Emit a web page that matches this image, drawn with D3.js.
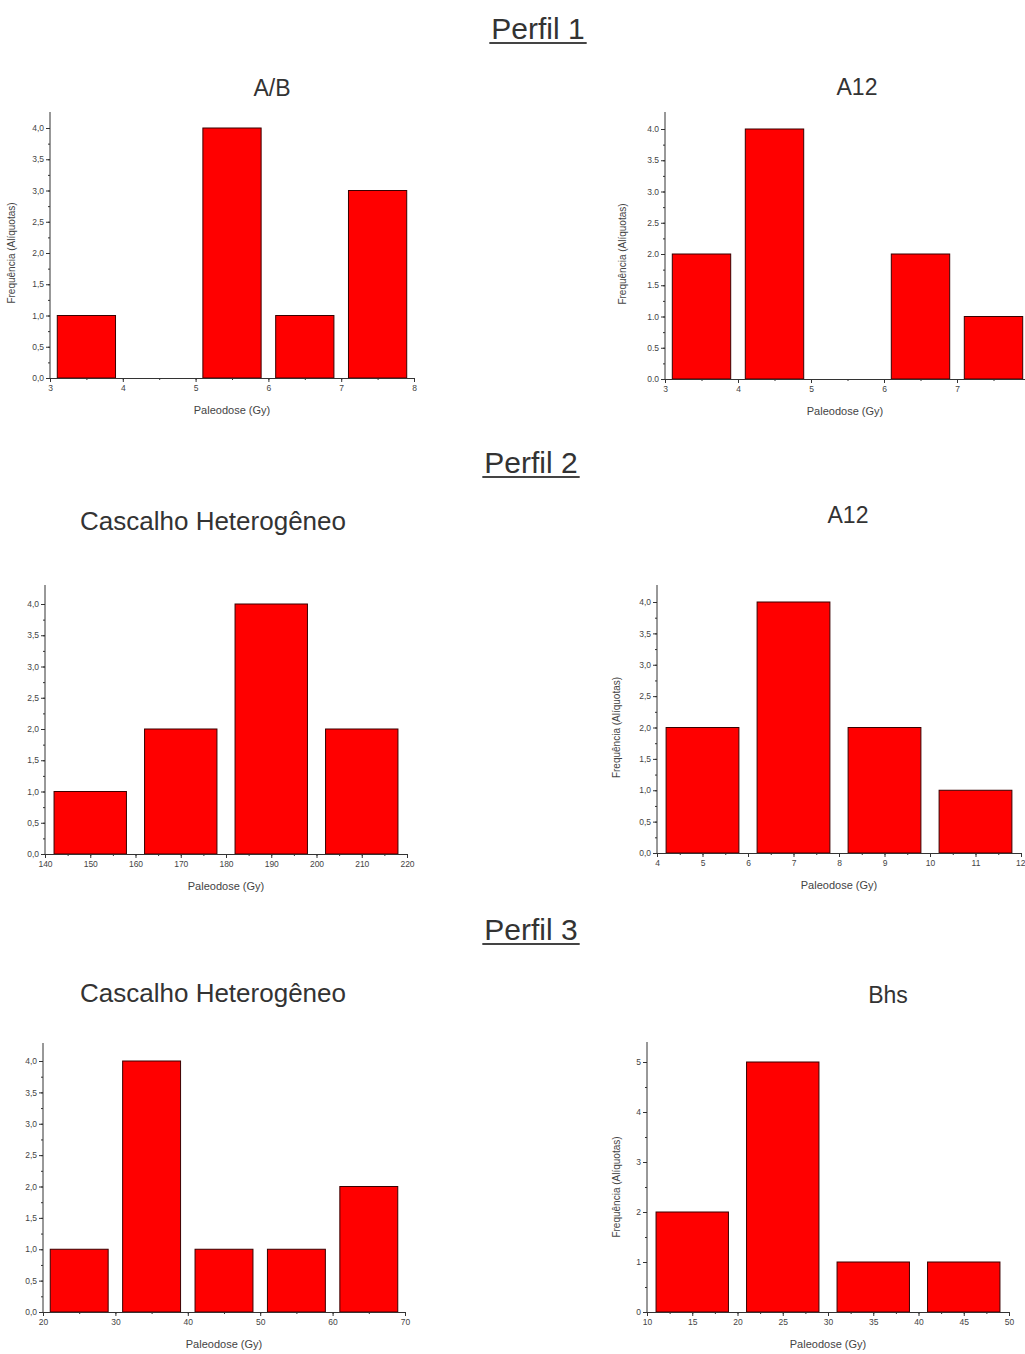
<!DOCTYPE html>
<html>
<head>
<meta charset="utf-8">
<script src="https://cdn.jsdelivr.net/npm/d3@7"></script>
<style>
  body{margin:0;background:#fff;}
  svg{display:block;font-family:"Liberation Sans",Arial,sans-serif;}
  .axis path,.axis line{stroke:#333;}
  .axis text{fill:#444;font-size:8.5px;}
</style>
</head>
<body>
<svg id="chart" width="1025" height="1354"></svg>
<script>
//------------DATA-----------
var sectionTitles=["Perfil 1","Perfil 2","Perfil 3"]
var panelTitles=["A/B","A12","Cascalho Heterogêneo","A12","Cascalho Heterogêneo","Bhs"]

// bin starts (Gy), bin width and counts per panel
var abBins=[3,4,5,6,7],          abCounts=[1,0,4,1,3]
var a12aBins=[3,4,5,6,7],        a12aCounts=[2,4,0,2,1]
var cascA_Bins=[140,160,180,200], cascA_Counts=[1,2,4,2]
var a12bBins=[4,6,8,10],         a12bCounts=[2,4,2,1]
var cascB_Bins=[20,30,40,50,60], cascB_Counts=[1,4,1,1,2]
var bhsBins=[10,20,30,40],       bhsCounts=[2,5,1,1]

var binWidths=[1,1,20,2,10,10]
var xTicks=[[3,4,5,6,7,8],[3,4,5,6,7,8],[140,150,160,170,180,190,200,210,220],
            [4,5,6,7,8,9,10,11,12],[20,30,40,50,60,70],[10,15,20,25,30,35,40,45,50]]
var yTicks=[[0,0.5,1,1.5,2,2.5,3,3.5,4],[0,0.5,1,1.5,2,2.5,3,3.5,4],[0,0.5,1,1.5,2,2.5,3,3.5,4],
            [0,0.5,1,1.5,2,2.5,3,3.5,4],[0,0.5,1,1.5,2,2.5,3,3.5,4],[0,1,2,3,4,5]]
var xLabel="Paleodose (Gy)"
var yLabel="Frequência (Alíquotas)"

//------------LAYOUT-----------
var panels=[
  {bins:abBins,   counts:abCounts,   xd:[3,8],    xr:[50,414],   y0:378, yt:128, top:112, comma:true,  yl:35, tx:272, ty:96},
  {bins:a12aBins, counts:a12aCounts, xd:[3,8],    xr:[665,1030], y0:379, yt:129, top:112, comma:false, yl:39, tx:857, ty:95},
  {bins:cascA_Bins,counts:cascA_Counts,xd:[140,220],xr:[45,407], y0:854, yt:604, top:585, comma:true,  yl:0,  tx:213, ty:530},
  {bins:a12bBins, counts:a12bCounts, xd:[4,12],   xr:[657,1021], y0:853, yt:602, top:585, comma:true,  yl:37, tx:848, ty:523},
  {bins:cascB_Bins,counts:cascB_Counts,xd:[20,70],xr:[43,405],   y0:1312,yt:1061,top:1043,comma:true,  yl:0,  tx:213, ty:1002},
  {bins:bhsBins,  counts:bhsCounts,  xd:[10,50],  xr:[647,1009], y0:1312,yt:1062,top:1042,comma:true,  yl:27, tx:888, ty:1003}
]
var sectionPos=[{x:538,y:39},{x:531,y:473},{x:531,y:940}]

var svg=d3.select("#chart")

//------------SECTION TITLES-----------
sectionTitles.forEach(function(t,i){
  var txt=svg.append("text")
    .attr("x",sectionPos[i].x).attr("y",sectionPos[i].y)
    .attr("text-anchor","middle")
    .style("font-size","30px").style("fill","#333")
    .text(t)
  var w=txt.node().getComputedTextLength()
  svg.append("line")
    .attr("x1",sectionPos[i].x-w/2-2).attr("x2",sectionPos[i].x+w/2+2)
    .attr("y1",sectionPos[i].y+4).attr("y2",sectionPos[i].y+4)
    .attr("stroke","#444").attr("stroke-width",2)
})

//------------PANELS-----------
panels.forEach(function(p,i){
  var yMax=yTicks[i][yTicks[i].length-1]
  var xScale=d3.scaleLinear().domain(p.xd).range(p.xr)
  var yScale=d3.scaleLinear().domain([0,yMax]).range([p.y0,p.yt])
  var bw=binWidths[i]
  var g=svg.append("g")

  // title
  g.append("text")
    .attr("x",p.tx).attr("y",p.ty)
    .attr("text-anchor","middle")
    .style("font-size",panelTitles[i].length>5?"26px":"23px")
    .style("fill","#333")
    .text(panelTitles[i])

  // bars
  g.selectAll("rect.bar")
    .data(p.bins.map(function(b,j){return {x:b,c:p.counts[j]}}))
    .enter()
    .append("rect")
    .attr("class","bar")
    .attr("x",function(d){return xScale(d.x+0.1*bw)})
    .attr("width",function(d){return xScale(d.x+0.9*bw)-xScale(d.x+0.1*bw)})
    .attr("y",function(d){return yScale(d.c)})
    .attr("height",function(d){return p.y0-yScale(d.c)})
    .attr("fill","#ff0000")
    .attr("stroke","#3a0000")
    .attr("stroke-width",1)

  // x axis
  var xs=xTicks[i]
  var step=xs[1]-xs[0]
  var minorX=d3.range(p.xd[0],p.xd[1]+1e-9,step/2)
  g.append("g").attr("class","axis")
    .attr("transform","translate(0,"+p.y0+")")
    .call(d3.axisBottom(xScale).tickValues(minorX).tickSize(2).tickSizeOuter(0).tickFormat(""))
  var xa=g.append("g").attr("class","axis")
    .attr("transform","translate(0,"+p.y0+")")
    .call(d3.axisBottom(xScale).tickValues(xs).tickSize(4).tickSizeOuter(0).tickPadding(3)
      .tickFormat(function(d){return xScale(d)>1025? "":d3.format("d")(d)}))
  // label at the page edge: keep it inside
  xa.selectAll(".tick text")
    .filter(function(d){return xScale(d)>1014})
    .attr("text-anchor","end").attr("dx","4px")

  // y axis
  var ys=yTicks[i]
  var ystep=ys[1]-ys[0]
  var minorY=d3.range(0,yMax+1e-9,ystep/2)
  var fmt=function(d){
    if(ystep>=1) return d3.format("d")(d)
    var s=d3.format(".1f")(d)
    return p.comma? s.replace(".",","):s
  }
  g.append("g").attr("class","axis")
    .attr("transform","translate("+p.xr[0]+",0)")
    .call(d3.axisLeft(yScale).tickValues(minorY).tickSize(2).tickSizeOuter(0).tickFormat(""))
    .select(".domain").remove()
  g.append("g").attr("class","axis")
    .attr("transform","translate("+p.xr[0]+",0)")
    .call(d3.axisLeft(yScale).tickValues(ys).tickSize(4).tickSizeOuter(0).tickPadding(2).tickFormat(fmt))
    .select(".domain").remove()
  g.append("line")
    .attr("x1",p.xr[0]).attr("x2",p.xr[0])
    .attr("y1",p.y0).attr("y2",p.top)
    .attr("stroke","#333")

  // axis labels
  g.append("text")
    .attr("x",(p.xr[0]+Math.min(p.xr[1],1025))/2)
    .attr("y",p.y0+36)
    .attr("text-anchor","middle")
    .style("font-size","11px").style("fill","#444")
    .text(xLabel)
  if(p.yl){
    g.append("text")
      .attr("transform","translate("+(p.xr[0]-p.yl)+","+((p.y0+p.yt)/2)+") rotate(-90)")
      .attr("text-anchor","middle")
      .style("font-size","10px").style("fill","#444")
      .text(yLabel)
  }
})
</script>
</body>
</html>
